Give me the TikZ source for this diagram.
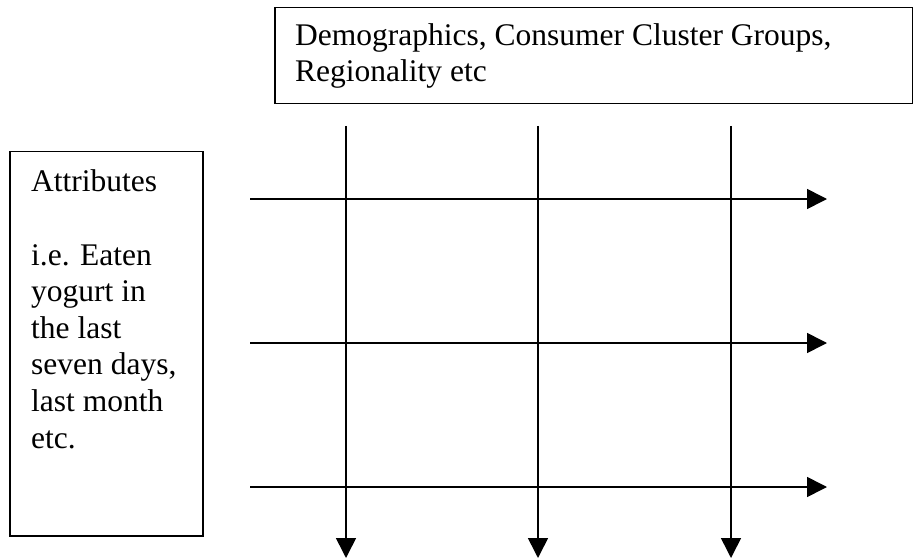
\documentclass[tikz,border=0pt]{standalone}
\usepackage{fontspec}
\setmainfont{Liberation Serif}
\usetikzlibrary{arrows.meta}
\begin{document}
\begin{tikzpicture}[x=1pt,y=-1pt,
  frame/.style={draw, line width=1.5pt, inner sep=0pt, anchor=north west},
  label/.style={inner sep=0pt, anchor=base west, align=left, font=\fontsize{31.5}{36.6}\selectfont},
  gridarrow/.style={line width=1.6pt, -{Triangle[length=20pt,width=20pt]}}]
\useasboundingbox (0,0) rectangle (913,559);
% boxes
\node[frame, minimum width=638pt, minimum height=96pt] (topbox) at (274,7) {};
\node[frame, minimum width=193pt, minimum height=384pt] (leftbox) at (9,151) {};
% texts (anchored at the baseline of their last line)
\node[label] (toptext) at (295,82) {Demographics, Consumer Cluster Groups,\\Regionality etc};
\node[label] (lefttext) at (31,448) {Attributes\\[36.6pt]i.e. Eaten\\yogurt in\\the last\\seven days,\\last month\\etc.};
% vertical arrows
\coordinate (v1s) at (346,126); \coordinate (v1e) at (346,558);
\coordinate (v2s) at (538,126); \coordinate (v2e) at (538,558);
\coordinate (v3s) at (731,126); \coordinate (v3e) at (731,558);
% horizontal arrows
\coordinate (h1s) at (250,199); \coordinate (h1e) at (827,199);
\coordinate (h2s) at (250,343); \coordinate (h2e) at (827,343);
\coordinate (h3s) at (250,487); \coordinate (h3e) at (827,487);
\draw[gridarrow] (v1s) -- (v1e);
\draw[gridarrow] (v2s) -- (v2e);
\draw[gridarrow] (v3s) -- (v3e);
\draw[gridarrow] (h1s) -- (h1e);
\draw[gridarrow] (h2s) -- (h2e);
\draw[gridarrow] (h3s) -- (h3e);
\end{tikzpicture}
\end{document}
